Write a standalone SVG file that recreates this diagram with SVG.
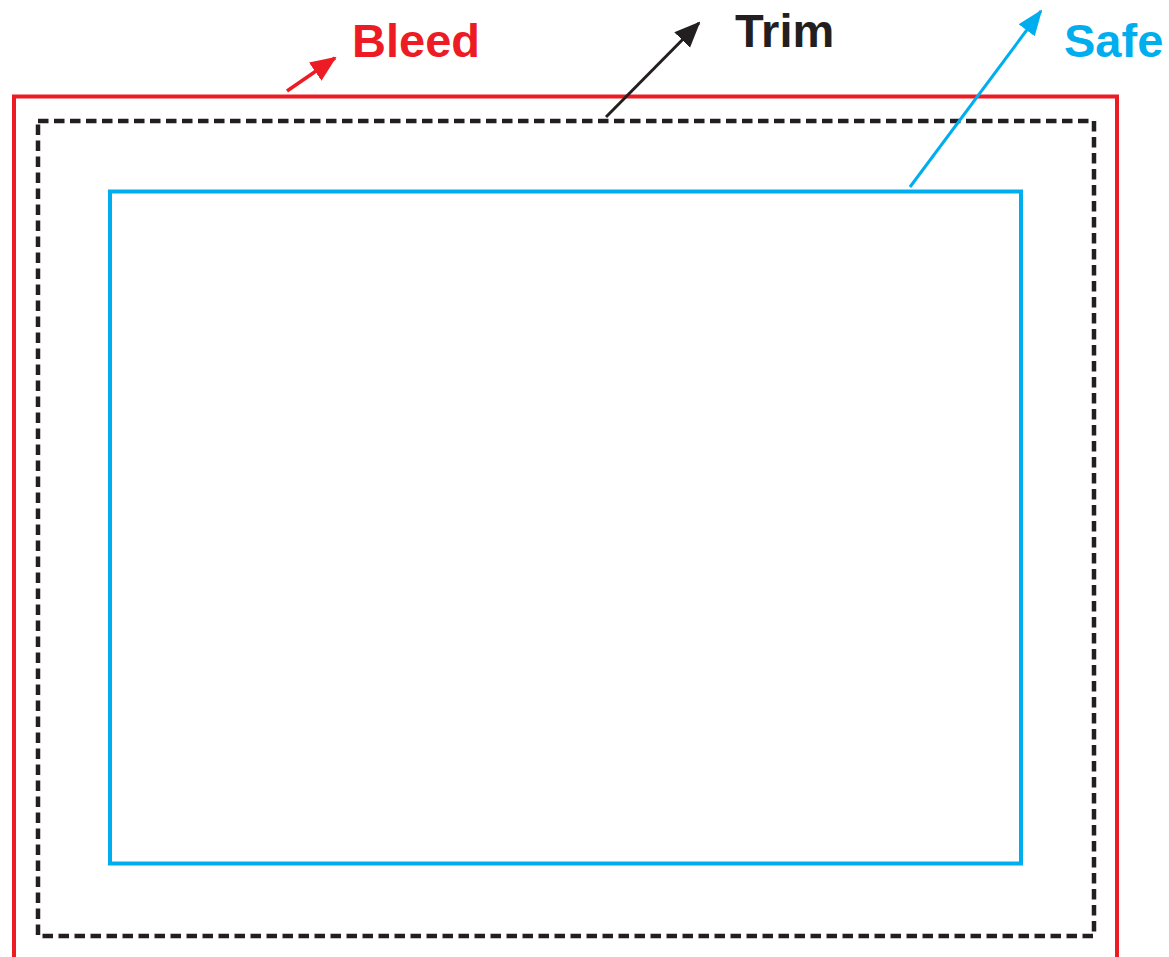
<svg xmlns="http://www.w3.org/2000/svg" width="1169" height="957" viewBox="0 0 1169 957">
<defs>
<style>
.lbl{font-family:"Liberation Sans",Arial,sans-serif;font-weight:bold;font-size:47px}
</style>
<marker id="ahR" markerUnits="userSpaceOnUse" markerWidth="26" markerHeight="26" viewBox="0 0 26 26" refX="24" refY="13" orient="auto"><path d="M0,2 L26,13 L0,24 Z" fill="#ED1C24"/></marker>
<marker id="ahK" markerUnits="userSpaceOnUse" markerWidth="26" markerHeight="26" viewBox="0 0 26 26" refX="24" refY="13" orient="auto"><path d="M0,2 L26,13 L0,24 Z" fill="#231F20"/></marker>
<marker id="ahB" markerUnits="userSpaceOnUse" markerWidth="26" markerHeight="26" viewBox="0 0 26 26" refX="24" refY="13" orient="auto"><path d="M0,3 L26,13 L0,23 Z" fill="#00AEEF"/></marker>
</defs>
<rect width="1169" height="957" fill="#ffffff"/>
<g id="bleed">
<path d="M14,957 V96.5 H1117 V957" fill="none" stroke="#ED1C24" stroke-width="4"/>
<text class="lbl" x="352" y="57" fill="#ED1C24">Bleed</text>
</g>
<g id="trim">
<rect x="38" y="121" width="1056" height="815" fill="none" stroke="#231F20" stroke-width="4.5" stroke-dasharray="10.5 5.5"/>
<text class="lbl" x="735" y="47" fill="#231F20">Trim</text>
</g>
<g id="safe">
<rect x="110" y="191.5" width="911" height="672" fill="none" stroke="#00AEEF" stroke-width="4"/>
<text class="lbl" x="1064" y="57" fill="#00AEEF">Safe</text>
</g>
<g id="connectors">
<line x1="287" y1="91" x2="335" y2="58" stroke="#ED1C24" stroke-width="3.5" marker-end="url(#ahR)"/>
<line x1="606" y1="117" x2="699" y2="23" stroke="#231F20" stroke-width="3" marker-end="url(#ahK)"/>
<line x1="910" y1="187" x2="1041" y2="11" stroke="#00AEEF" stroke-width="3" marker-end="url(#ahB)"/>
</g>
</svg>
